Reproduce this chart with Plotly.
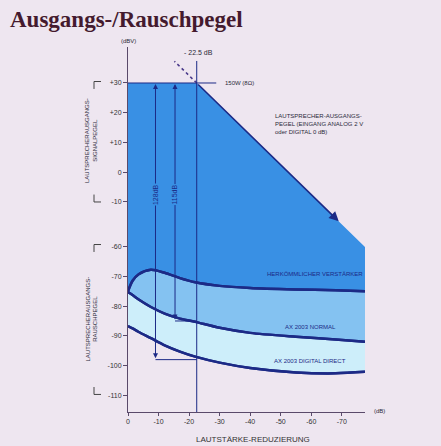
import plotly.graph_objects as go

# ---------------- data ----------------
reduction_db = [0, -1.5, -3.5, -7.5, -12, -17, -22, -30, -40, -55, -68, -77.6]
conventional_noise = [-75.0, -71.5, -69.3, -67.8, -68.8, -70.6, -72.0, -73.2, -73.9, -74.4, -74.7, -75.0]
normal_noise = [-75.3, -76.3, -77.8, -80.3, -82.5, -84.2, -85.3, -87.3, -89.0, -90.3, -91.2, -92.0]
digital_noise = [-86.7, -87.5, -88.7, -90.8, -93.2, -95.3, -97.0, -99.0, -100.8, -102.3, -102.6, -102.1]

max_output_db = 30
clip_reduction = -22.5
output_x = [0, -22.5, -77.6]
output_y = [30, 30, -25.1]           # loudspeaker output level (upper scale)
output_arrow_end = (-69.0, -16.5)
dashed_ext = [(-22.5, 30), (-15.2, 37.3)]

range_pos = [-9.0, -15.4]
range_db = [128, 115]

y_tickvals_db = [30, 20, 10, 0, -10, -60, -70, -80, -90, -100, -110]
y_ticktext = ["+30", "+20", "+10", "0", "-10", "-60", "-70", "-80", "-90", "-100", "-110"]
x_tickvals = [0, -10, -20, -30, -40, -50, -60, -70]
x_ticktext = ["0", "-10", "-20", "-30", "-40", "-50", "-60", "-70"]

# broken axis: lower (noise) scale is shifted up by 35 dB
def disp(v):
    return v if v > -40 else v + 35

NAVY = "#1c2a86"
DARK = "#3990e4"
MED = "#84c2f1"
PALE = "#cdeefa"
BG = "#eee6f0"
TXT = "#2a2a3a"
FONT = "Liberation Sans, Arial, sans-serif"

Y0, Y1 = -80.6, 42.1
X0, X1 = 0, -77.6

fig = go.Figure()

spl = dict(shape="spline", smoothing=0.8)
fig.add_trace(go.Scatter(x=reduction_db, y=[disp(v) for v in digital_noise], mode="lines",
                         line=dict(color=NAVY, width=2.5, **spl), hoverinfo="skip"))
fig.add_trace(go.Scatter(x=reduction_db, y=[disp(v) for v in normal_noise], mode="lines",
                         fill="tonexty", fillcolor=PALE,
                         line=dict(color=NAVY, width=2.5, **spl), hoverinfo="skip"))
fig.add_trace(go.Scatter(x=reduction_db, y=[disp(v) for v in conventional_noise], mode="lines",
                         fill="tonexty", fillcolor=MED,
                         line=dict(color=NAVY, width=2.5, **spl), hoverinfo="skip"))
fig.add_trace(go.Scatter(x=output_x, y=output_y, mode="lines",
                         fill="tonexty", fillcolor=DARK,
                         line=dict(color="rgba(0,0,0,0)", width=0), hoverinfo="skip"))
for arr in (conventional_noise, normal_noise, digital_noise):
    fig.add_trace(go.Scatter(x=reduction_db, y=[disp(v) for v in arr], mode="lines",
                             line=dict(color=NAVY, width=2.5, **spl), hoverinfo="skip"))

fig.add_trace(go.Scatter(x=[0, -28.9], y=[max_output_db, max_output_db], mode="lines",
                         line=dict(color=NAVY, width=1), hoverinfo="skip"))
fig.add_trace(go.Scatter(x=[p[0] for p in dashed_ext], y=[p[1] for p in dashed_ext], mode="lines",
                         line=dict(color="#4a3a8a", width=1.6, dash="dot"), hoverinfo="skip"))
fig.add_trace(go.Scatter(x=[clip_reduction, clip_reduction], y=[37.4, Y0], mode="lines",
                         line=dict(color=NAVY, width=1), hoverinfo="skip"))
for xp, r in zip(range_pos, range_db):
    yb = disp(max_output_db - r)
    fig.add_trace(go.Scatter(x=[xp, clip_reduction], y=[yb, yb], mode="lines",
                             line=dict(color=NAVY, width=1), hoverinfo="skip"))

ann = []
ann.append(dict(x=output_arrow_end[0], y=output_arrow_end[1], ax=clip_reduction, ay=max_output_db,
                xref="x", yref="y", axref="x", ayref="y", showarrow=True, arrowhead=2,
                arrowsize=1.2, arrowwidth=1.6, arrowcolor=NAVY, text=""))
for xp, r in zip(range_pos, range_db):
    ann.append(dict(x=xp, y=max_output_db - 0.3, ax=xp, ay=disp(max_output_db - r),
                    xref="x", yref="y", axref="x", ayref="y", showarrow=True, arrowhead=2,
                    arrowside="end+start", arrowsize=1, arrowwidth=1, arrowcolor=NAVY, text=""))
    ann.append(dict(x=xp, y=-7.5, xref="x", yref="y", text=f"{r}dB", showarrow=False,
                    textangle=-90, bgcolor=DARK, borderpad=0,
                    font=dict(family=FONT, size=7, color=NAVY)))

def lab(x, y, t, size=6, xanchor="center", align="center", xref="x", yref="y", angle=0, color=TXT):
    ann.append(dict(x=x, y=y, xref=xref, yref=yref, text=t, showarrow=False, xanchor=xanchor,
                    yanchor="middle", align=align, textangle=angle,
                    font=dict(family=FONT, size=size, color=color)))

lab(-23.2, 40.2, "- 22.5 dB", size=7)
lab(-31.1, 30, "150W (8Ω)", size=6, xanchor="left")
lab(-47.5, 16.2, "LAUTSPRECHER-AUSGANGS-<br>PEGEL (EINGANG ANALOG 2 V<br>oder DIGITAL 0 dB)",
    size=6, xanchor="left", align="left")
lab(-77.6, disp(-69.3), "HERKÖMMLICHER VERSTÄRKER", size=6, xanchor="right", color=NAVY)
lab(-59.7, disp(-87.0), "AX 2003 NORMAL", size=6, color=NAVY)
lab(-59.7, disp(-98.3), "AX 2003 DIGITAL DIRECT", size=6, color=NAVY)

W, H = 441, 446
L, R, T, B = 128, 76, 47, 34
PW, PH = W - L - R, H - T - B
def px(xp):
    return (xp - L) / PW
def py(yp):
    return (H - B - yp) / PH

lab(px(128), py(41), "(dBV)", size=6, xref="paper", yref="paper")
lab(px(379), py(411), "(dB)", size=6, xref="paper", yref="paper")
lab(px(253), py(439), "LAUTSTÄRKE-REDUZIERUNG", size=8, xref="paper", yref="paper", color="#333")
lab(px(91), 10.5, "LAUTSPRECHERAUSGANGS-<br>SIGNALPEGEL", size=6, xref="paper", angle=-90)
lab(px(92), disp(-84.5), "LAUTSPRECHERAUSGANGS-<br>RAUSCHPEGEL", size=6, xref="paper", angle=-90)
ann.append(dict(x=px(8), y=py(19), xref="paper", yref="paper", xanchor="left", yanchor="middle",
                text="<b>Ausgangs-/Rauschpegel</b>", showarrow=False,
                font=dict(family="Liberation Serif, Times New Roman, serif", size=23, color="#441a2e")))

shapes = []
def bracket(ytop, ybot):
    xa, xb = px(94), px(101)
    for (y0, y1) in ((ytop, ytop), (ybot, ybot)):
        shapes.append(dict(type="line", xref="paper", yref="y", x0=xa, x1=xb, y0=y0, y1=y1,
                           line=dict(color="#444", width=1)))
    shapes.append(dict(type="line", xref="paper", yref="y", x0=xa, x1=xa, y0=ytop, y1=ytop - 2.5,
                       line=dict(color="#444", width=1)))
    shapes.append(dict(type="line", xref="paper", yref="y", x0=xa, x1=xa, y0=ybot, y1=ybot + 2.5,
                       line=dict(color="#444", width=1)))
bracket(30.5, -10)
bracket(disp(-59.3), disp(-109.7))

fig.update_layout(
    width=W, height=H, margin=dict(l=L, r=R, t=T, b=B),
    paper_bgcolor=BG, plot_bgcolor=BG, showlegend=False,
    annotations=ann, shapes=shapes,
    xaxis=dict(range=[X0, X1], tickvals=x_tickvals, ticktext=x_ticktext, showgrid=False,
               zeroline=False, showline=True, linecolor="#5a4a6a", linewidth=1,
               ticks="outside", ticklen=3, tickcolor="#5a4a6a",
               tickfont=dict(family=FONT, size=7, color="#333")),
    yaxis=dict(range=[Y0, Y1], tickvals=[disp(v) for v in y_tickvals_db], ticktext=y_ticktext,
               showgrid=False, zeroline=False, showline=True, linecolor="#5a4a6a", linewidth=1,
               ticks="outside", ticklen=4, tickcolor="#5a4a6a",
               tickfont=dict(family=FONT, size=7, color="#333")),
)

fig.write_html("out.html", config={"displayModeBar": False},
               post_script="document.body.style.margin='0';document.body.style.background='" + BG + "';")
